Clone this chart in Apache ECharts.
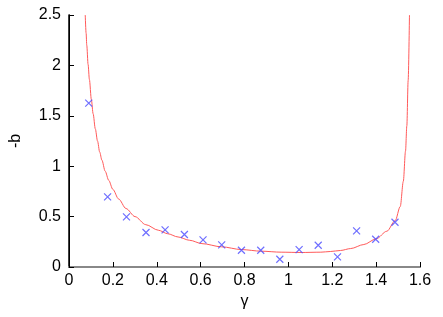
<!DOCTYPE html>
<html><head><meta charset="utf-8">
<script src="https://cdn.jsdelivr.net/npm/echarts@6/dist/echarts.min.js"></script>
<style>html,body{margin:0;padding:0;background:#fff}#c{width:443px;height:317px}</style>
</head><body><div id="c"></div>
<script>
// measured points (gamma, -b)
var pointGamma = [0.090, 0.176, 0.262, 0.351, 0.438, 0.526, 0.611, 0.696, 0.786, 0.874, 0.961, 1.049, 1.136, 1.224, 1.311, 1.398, 1.486];
var pointB     = [1.626, 0.695, 0.497, 0.342, 0.368, 0.322, 0.269, 0.220, 0.166, 0.166, 0.077, 0.173, 0.216, 0.101, 0.358, 0.275, 0.444];
// fitted curve
var curveGamma = [0.074, 0.078, 0.081, 0.087, 0.093, 0.102, 0.110, 0.120, 0.130, 0.140, 0.150, 0.165, 0.181, 0.200, 0.226, 0.260, 0.301, 0.350, 0.407, 0.450, 0.497, 0.550, 0.606, 0.696, 0.786, 0.876, 0.967, 1.058, 1.148, 1.193, 1.238, 1.284, 1.344, 1.400, 1.449, 1.487, 1.510, 1.524, 1.534, 1.540, 1.546, 1.552];
var curveB     = [2.50, 2.32, 2.20, 2.01, 1.86, 1.66, 1.52, 1.37, 1.25, 1.14, 1.06, 0.95, 0.86, 0.77, 0.675, 0.58, 0.50, 0.42, 0.365, 0.33, 0.298, 0.265, 0.232, 0.200, 0.173, 0.157, 0.147, 0.144, 0.147, 0.154, 0.164, 0.183, 0.223, 0.279, 0.355, 0.46, 0.60, 0.85, 1.15, 1.40, 1.85, 2.50];
var xTicks = [0, 0.2, 0.4, 0.6, 0.8, 1, 1.2, 1.4, 1.6];
var yTicks = [0, 0.5, 1, 1.5, 2, 2.5];

var pts = pointGamma.map(function(g,i){return [g, pointB[i]];});
var crv = curveGamma.map(function(g,i){return [g, curveB[i]];});
var font = 'Liberation Sans, Arial, sans-serif';
var chart = echarts.init(document.getElementById('c'), null, {renderer:'canvas'});
chart.setOption({
  animation:false,
  grid:{left:66, right:23, top:15, bottom:50},
  xAxis:[{
    type:'value', min:xTicks[0], max:xTicks[xTicks.length-1], interval:0.2,
    name:'γ', nameLocation:'middle', nameGap:16,
    nameTextStyle:{color:'#000', fontSize:16, fontFamily:font},
    axisLine:{show:true, onZero:false, lineStyle:{color:'#000', width:1}},
    axisTick:{show:true, inside:true, length:5, lineStyle:{color:'#000'}},
    axisLabel:{color:'#000', fontSize:16, fontFamily:font, margin:6},
    splitLine:{show:false}
  },{
    type:'value', position:'top', min:0, max:1.6,
    axisLine:{show:true, lineStyle:{color:'#888', width:2}},
    axisTick:{show:false}, axisLabel:{show:false}, splitLine:{show:false}
  }],
  yAxis:[{
    type:'value', min:yTicks[0], max:yTicks[yTicks.length-1], interval:0.5,
    name:'-b', nameLocation:'middle', nameGap:45, nameRotate:90,
    nameTextStyle:{color:'#000', fontSize:16, fontFamily:font},
    axisLine:{show:true, onZero:false, lineStyle:{color:'#000', width:1}},
    axisTick:{show:true, inside:true, length:5, lineStyle:{color:'#000'}},
    axisLabel:{color:'#000', fontSize:16, fontFamily:font, margin:8},
    splitLine:{show:false}
  },{
    type:'value', position:'right', min:0, max:2.5,
    axisLine:{show:true, lineStyle:{color:'#000', width:1.5}},
    axisTick:{show:false}, axisLabel:{show:false}, splitLine:{show:false}
  }],
  series:[{
    type:'line', data:crv, showSymbol:false, smooth:0.3, smoothMonotone:'x', clip:true,
    lineStyle:{color:'#ff5a5a', width:1}, z:2
  },{
    type:'scatter', data:pts, symbol:'path://M0,0L10,10M10,0L0,10', symbolSize:7,
    itemStyle:{color:'rgba(0,0,0,0)', borderColor:'#4a4aff', borderWidth:1.2}, z:3
  }]
});
</script></body></html>
